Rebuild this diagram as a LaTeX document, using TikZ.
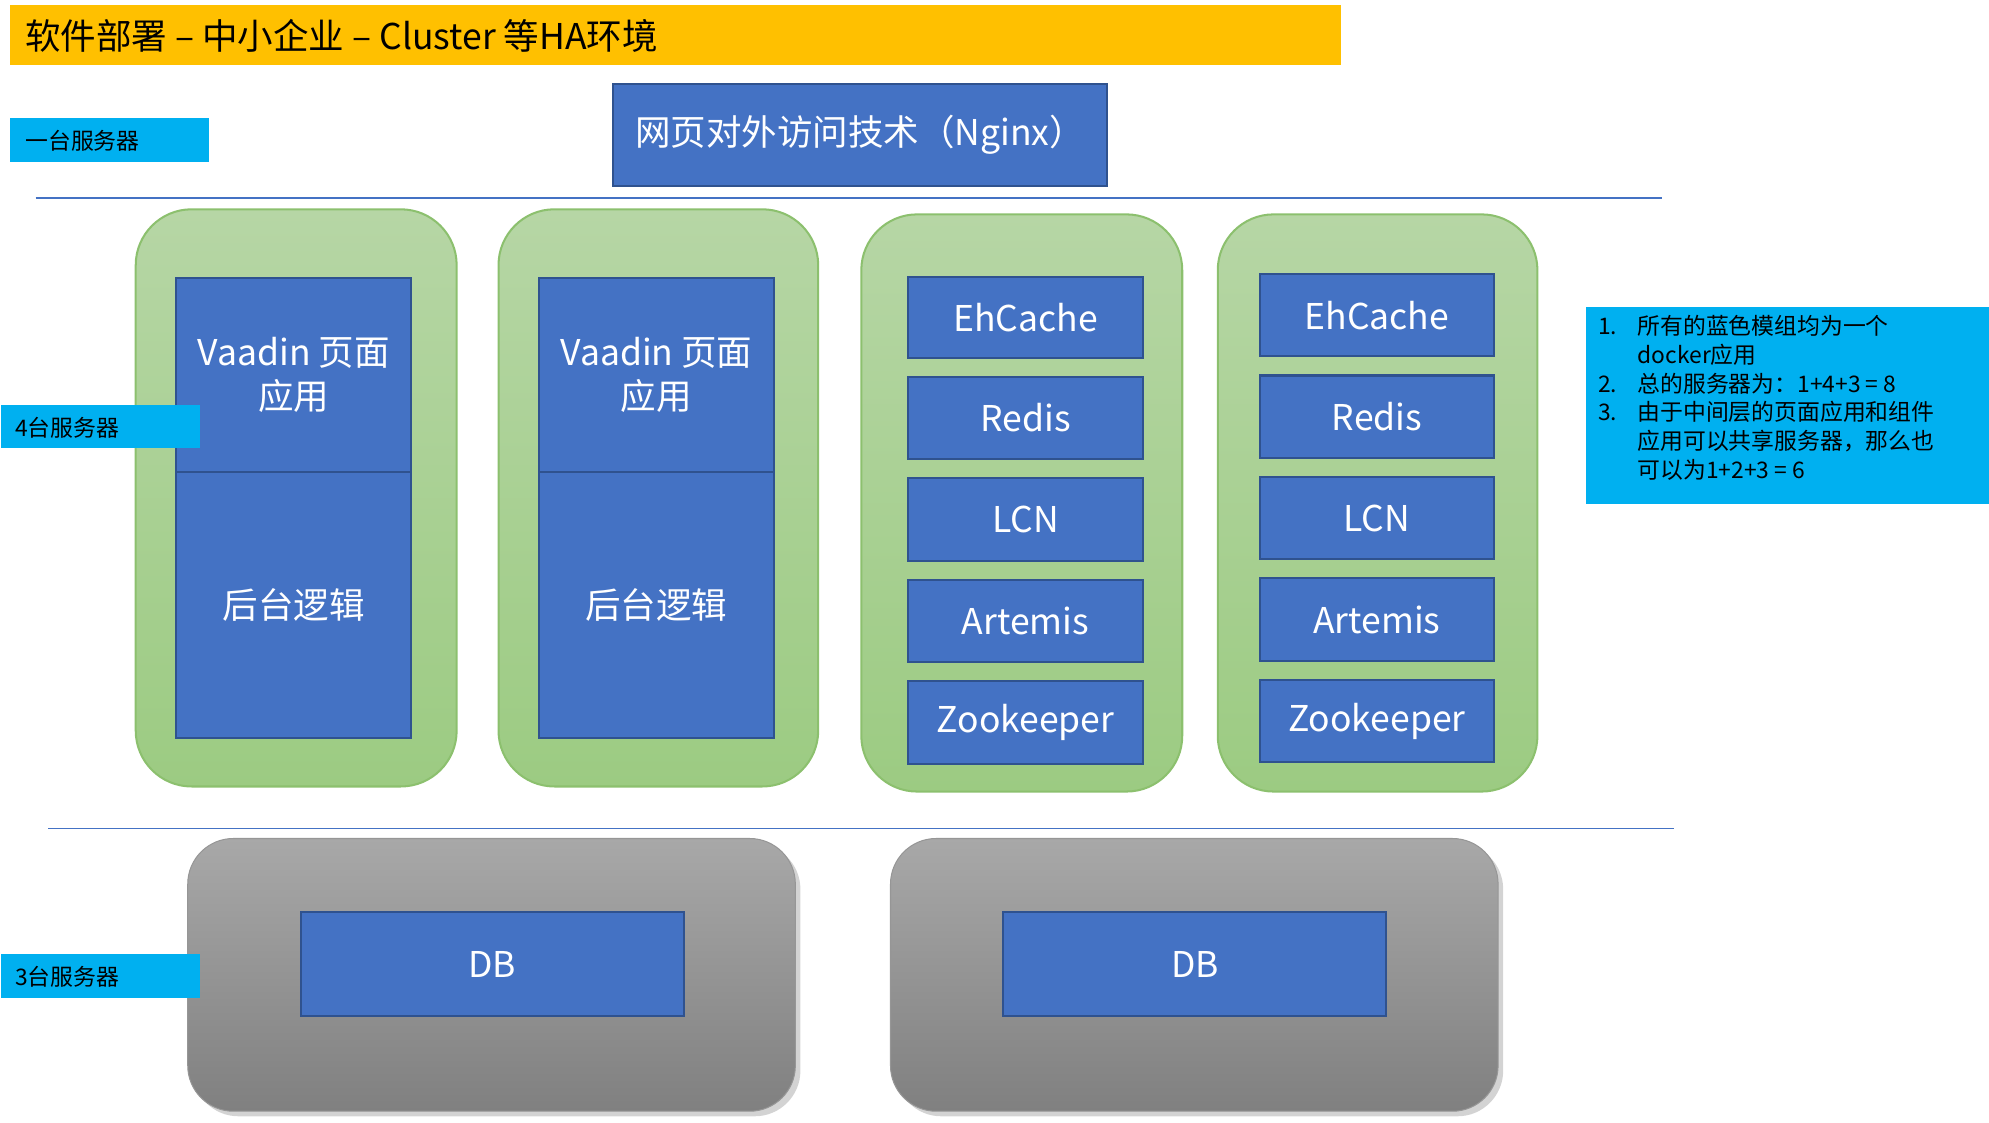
\documentclass[tikz,border=0pt]{standalone}
\usepackage{fontspec}
\setmainfont{Noto Sans CJK SC}
\usetikzlibrary{shadows}
\definecolor{ttl}{HTML}{FFC000}
\definecolor{cy}{HTML}{00B0F0}
\definecolor{bl}{HTML}{4472C4}
\definecolor{bld}{HTML}{2F528F}
\definecolor{gtop}{RGB}{182,214,165}
\definecolor{gbot}{RGB}{156,203,130}
\definecolor{gdr}{RGB}{140,192,110}
\definecolor{ktop}{RGB}{168,168,168}
\definecolor{kbot}{RGB}{128,128,128}
\definecolor{kdr}{RGB}{150,150,150}
\newcommand\bx[7]{\node[#6, minimum width={(#4-#2)*0.5pt}, minimum height={(#5-#3)*0.5pt}] (#1) at ({(#2+#4)/2},{(#3+#5)/2}) {#7};}
\begin{document}
\begin{tikzpicture}[x=0.5pt,y=-0.5pt,
  every node/.style={inner sep=0pt,outer sep=0pt},
  bbox/.style={fill=bl,draw=bld,line width=0.8pt,text=white,font=\fontsize{14}{17}\selectfont,align=center},
  gbox/.style={rounded corners=22pt,top color=gtop,bottom color=gbot,draw=gdr,line width=0.8pt},
  kbox/.style={rounded corners=18pt,top color=ktop,bottom color=kbot,draw=kdr,drop shadow={opacity=0.35,shadow xshift=2pt,shadow yshift=-2pt}},
  sep/.style={draw=bl,line width=0.6pt}]
\useasboundingbox (0,0) rectangle (1568,885);
\bx{title}{8}{4}{1057}{51}{fill=ttl}{}
\node[anchor=west,font=\fontsize{14}{17}\selectfont] (tt) at (20,28) {软件部署 – 中小企业 – Cluster 等HA环境};
\bx{l1}{8}{93}{165}{128}{fill=cy}{}
\node[anchor=west,font=\fontsize{9}{11}\selectfont] (l1t) at (20,111) {一台服务器};
\bx{ngx}{483}{66}{873}{147}{bbox}{网页对外访问技术（Nginx）}
\coordinate (s1a) at (28,156); \coordinate (s1b) at (1310,156);
\draw[sep] (s1a) -- (s1b);
\bx{g1}{107}{165}{360}{620}{gbox}{}
\bx{g2}{393}{165}{645}{620}{gbox}{}
\bx{g3}{679}{169}{932}{624}{gbox}{}
\bx{g4}{960}{169}{1212}{624}{gbox}{}
\bx{v1}{139}{219}{324}{372}{bbox}{Vaadin 页面\\应用}
\bx{b1}{139}{372}{324}{582}{bbox}{后台逻辑}
\bx{v2}{425}{219}{610}{372}{bbox}{Vaadin 页面\\应用}
\bx{b2}{425}{372}{610}{582}{bbox}{后台逻辑}
\bx{e3}{716}{218}{901}{282}{bbox}{EhCache}
\bx{r3}{716}{297}{901}{362}{bbox}{Redis}
\bx{c3}{716}{377}{901}{442}{bbox}{LCN}
\bx{a3}{716}{457}{901}{522}{bbox}{Artemis}
\bx{z3}{716}{537}{901}{602}{bbox}{Zookeeper}
\bx{e4}{993}{216}{1178}{281}{bbox}{EhCache}
\bx{r4}{993}{296}{1178}{361}{bbox}{Redis}
\bx{c4}{993}{376}{1178}{441}{bbox}{LCN}
\bx{a4}{993}{456}{1178}{521}{bbox}{Artemis}
\bx{z4}{993}{536}{1178}{601}{bbox}{Zookeeper}
\bx{l2}{1}{319}{158}{353}{fill=cy}{}
\node[anchor=west,font=\fontsize{9}{11}\selectfont] (l2t) at (12,337) {4台服务器};
\coordinate (s2a) at (38,653); \coordinate (s2b) at (1320,653);
\draw[sep] (s2a) -- (s2b);
\bx{k1}{148}{661}{627}{876}{kbox}{}
\bx{k2}{702}{661}{1181}{876}{kbox}{}
\bx{d1}{237}{719}{539}{801}{bbox}{DB}
\bx{d2}{791}{719}{1093}{801}{bbox}{DB}
\bx{l3}{1}{752}{158}{787}{fill=cy}{}
\node[anchor=west,font=\fontsize{9}{11}\selectfont] (l3t) at (12,770) {3台服务器};
\bx{note}{1250}{242}{1568}{397}{fill=cy}{}
\node[anchor=north west,font=\fontsize{9}{11.3}\selectfont,align=left] (nt) at (1260,248) {%
\begin{tabular}{@{}l@{\hspace{8pt}}l@{}}
1. & 所有的蓝色模组均为一个\\
   & docker应用\\
2. & 总的服务器为：1+4+3 = 8\\
3. & 由于中间层的页面应用和组件\\
   & 应用可以共享服务器，那么也\\
   & 可以为1+2+3 = 6
\end{tabular}};
\end{tikzpicture}
\end{document}
